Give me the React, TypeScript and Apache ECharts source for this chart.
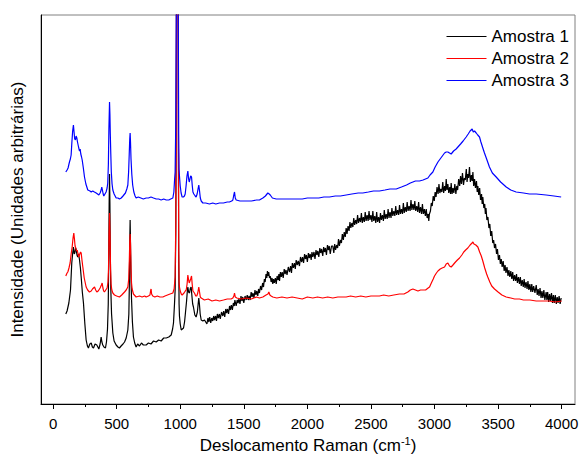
import React, { useEffect, useRef } from "react";
import * as echarts from "echarts";

// Wavenumber (cm-1), intensity (arbitrary units) pairs
const amostra1: [number, number][] = [
  [100, 90], [110, 93], [124, 101], [137, 114], [147, 141], [155, 152], [160, 157], [166, 150], [171, 151], [177, 156],
  [182, 154], [188, 149], [194, 147], [201, 150], [208, 144], [215, 136], [221, 127], [230, 112], [239, 101], [250, 80],
  [260, 64], [270, 58], [278, 56], [289, 60], [300, 61], [309, 57], [318, 56], [330, 60], [344, 59], [352, 57],
  [360, 55], [370, 60], [378, 67], [384, 62], [391, 59], [400, 57], [412, 56], [420, 62], [428, 75], [434, 100],
  [438, 150], [441, 200], [444, 230], [447, 200], [450, 150], [454, 115], [460, 90], [470, 71], [480, 63], [496, 59],
  [510, 57], [522, 56], [535, 58], [550, 60], [562, 62], [575, 66], [588, 74], [596, 90], [600, 120], [603, 160],
  [606, 184], [609, 160], [613, 125], [617, 105], [624, 82], [632, 67], [642, 61], [653, 57], [665, 60], [680, 58],
  [695, 61], [710, 59], [732, 59], [750, 61], [770, 60], [790, 63], [811, 62], [830, 64], [850, 63], [870, 66],
  [890, 66], [910, 67], [929, 69], [940, 75], [947, 81], [955, 100], [960, 114], [965, 170], [969, 300], [973, 550], [977, 600],
  [981, 550], [985, 300], [988, 150], [991, 100], [994, 88], [1000, 80], [1008, 74], [1017, 75], [1026, 76], [1034, 82], [1041, 91],
  [1050, 103], [1056, 113], [1060, 117], [1066, 112], [1073, 111], [1080, 116], [1086, 117], [1092, 108], [1098, 100], [1104, 97],
  [1115, 89], [1125, 87], [1135, 92], [1141, 100], [1146, 106], [1151, 100], [1157, 90], [1165, 84], [1178, 83], [1191, 84],
  [1210, 80], [1218, 86], [1225, 82], [1232, 87], [1240, 81], [1248, 86], [1256, 83], [1263, 88], [1270, 84], [1278, 88],
  [1285, 83], [1292, 90], [1300, 86], [1308, 90], [1315, 85], [1325, 92], [1335, 88], [1342, 93], [1350, 87], [1358, 95],
  [1365, 91], [1372, 95], [1380, 90], [1388, 98], [1395, 94], [1402, 99], [1410, 94], [1418, 101], [1425, 98], [1430, 104],
  [1440, 98], [1448, 104], [1455, 101], [1462, 105], [1470, 100], [1478, 108], [1485, 103], [1492, 107], [1500, 101], [1510, 108],
  [1519, 104], [1527, 109], [1535, 104], [1542, 108], [1550, 104], [1558, 112], [1565, 107], [1572, 111], [1580, 106], [1588, 114],
  [1595, 109], [1602, 113], [1610, 108], [1616, 115], [1623, 111], [1632, 118], [1640, 114], [1648, 121], [1655, 117], [1662, 125],
  [1668, 122], [1675, 130], [1681, 126], [1686, 133], [1690, 128], [1696, 132], [1702, 126], [1708, 128], [1715, 122], [1722, 126],
  [1728, 120], [1734, 125], [1740, 121], [1748, 126], [1755, 120], [1762, 128], [1770, 124], [1776, 130], [1781, 123], [1788, 132],
  [1795, 127], [1802, 132], [1810, 126], [1818, 135], [1825, 130], [1832, 134], [1840, 129], [1850, 137], [1860, 132], [1868, 138],
  [1875, 131], [1882, 141], [1890, 136], [1898, 141], [1905, 135], [1912, 144], [1920, 139], [1928, 143], [1938, 138], [1946, 147],
  [1955, 142], [1962, 147], [1970, 141], [1978, 150], [1985, 145], [1992, 149], [2000, 142], [2008, 151], [2015, 146], [2022, 150],
  [2030, 144], [2036, 152], [2043, 147], [2052, 152], [2060, 145], [2068, 154], [2075, 149], [2082, 153], [2090, 147], [2098, 156],
  [2105, 151], [2112, 155], [2121, 148], [2128, 157], [2135, 152], [2142, 156], [2150, 149], [2158, 159], [2165, 154], [2172, 158],
  [2180, 150], [2190, 158], [2200, 158], [2208, 151], [2215, 160], [2222, 154], [2230, 159], [2238, 156], [2245, 165], [2252, 158],
  [2260, 164], [2268, 161], [2275, 170], [2283, 164], [2290, 172], [2298, 167], [2305, 176], [2312, 170], [2320, 178], [2328, 173],
  [2335, 182], [2342, 176], [2350, 181], [2358, 177], [2365, 186], [2372, 179], [2380, 184], [2388, 180], [2395, 189], [2402, 181],
  [2410, 186], [2418, 182], [2425, 191], [2432, 181], [2440, 187], [2448, 182], [2455, 192], [2462, 183], [2470, 189], [2478, 183],
  [2485, 193], [2492, 184], [2500, 189], [2508, 182], [2515, 193], [2522, 183], [2530, 188], [2538, 181], [2545, 192], [2552, 182],
  [2560, 187], [2568, 181], [2575, 191], [2582, 184], [2590, 189], [2598, 183], [2605, 194], [2612, 185], [2620, 190], [2628, 185],
  [2635, 195], [2642, 186], [2650, 192], [2658, 186], [2665, 196], [2672, 188], [2680, 193], [2688, 188], [2695, 198], [2702, 189],
  [2710, 194], [2718, 189], [2725, 199], [2732, 190], [2740, 195], [2748, 190], [2755, 201], [2762, 191], [2770, 197], [2778, 192],
  [2785, 202], [2792, 193], [2800, 198], [2808, 193], [2815, 204], [2822, 194], [2830, 200], [2838, 194], [2845, 203], [2852, 193],
  [2860, 198], [2868, 192], [2875, 202], [2882, 191], [2890, 197], [2898, 190], [2905, 200], [2912, 190], [2920, 195], [2928, 188],
  [2935, 195], [2942, 186], [2950, 190], [2955, 183], [2960, 190], [2968, 193], [2975, 201], [2982, 198], [2990, 208], [2998, 203],
  [3005, 212], [3012, 207], [3020, 217], [3028, 210], [3035, 220], [3042, 211], [3050, 215], [3058, 212], [3065, 222], [3072, 211],
  [3080, 218], [3086, 213], [3092, 225], [3098, 214], [3105, 220], [3112, 211], [3120, 217], [3126, 210], [3131, 221], [3138, 210],
  [3145, 216], [3152, 211], [3160, 220], [3168, 210], [3175, 218], [3182, 214], [3190, 225], [3198, 218], [3205, 228], [3212, 220],
  [3220, 231], [3228, 219], [3235, 226], [3242, 224], [3250, 235], [3256, 222], [3262, 230], [3268, 226], [3275, 237], [3282, 222],
  [3290, 229], [3296, 223], [3302, 232], [3308, 218], [3315, 225], [3322, 216], [3330, 223], [3336, 212], [3341, 218], [3348, 209],
  [3355, 216], [3362, 204], [3370, 210], [3375, 200], [3380, 207], [3388, 196], [3395, 200], [3400, 190], [3405, 196], [3412, 184],
  [3420, 187], [3428, 176], [3435, 180], [3442, 168], [3450, 173], [3458, 161], [3465, 164], [3472, 156], [3480, 160], [3488, 150],
  [3495, 155], [3503, 144], [3511, 149], [3518, 140], [3525, 145], [3532, 137], [3540, 143], [3548, 133], [3555, 139], [3562, 131],
  [3570, 137], [3578, 128], [3585, 134], [3592, 127], [3600, 133], [3608, 125], [3615, 132], [3622, 123], [3630, 129], [3638, 123],
  [3645, 130], [3652, 121], [3660, 127], [3668, 120], [3675, 127], [3682, 118], [3690, 124], [3698, 117], [3705, 125], [3712, 116],
  [3720, 122], [3728, 115], [3735, 123], [3742, 114], [3750, 120], [3758, 112], [3765, 120], [3772, 112], [3780, 118], [3790, 111],
  [3800, 119], [3808, 109], [3815, 115], [3822, 108], [3830, 116], [3838, 106], [3845, 113], [3852, 106], [3860, 114], [3868, 104],
  [3878, 112], [3884, 104], [3890, 112], [3898, 102], [3905, 110], [3912, 103], [3920, 111], [3928, 101], [3935, 109], [3942, 101],
  [3950, 109], [3958, 100], [3965, 107], [3972, 101], [3980, 108], [3988, 100], [3996, 106],
];

const amostra2: [number, number][] = [
  [100, 128], [110, 131], [116, 132], [125, 136], [134, 141], [142, 150], [150, 157], [157, 166], [163, 171], [168, 165],
  [173, 158], [178, 156], [184, 153], [190, 154], [196, 150], [202, 147], [210, 150], [216, 152], [221, 151], [228, 143],
  [234, 137], [245, 126], [260, 117], [272, 114], [286, 112], [300, 113], [310, 115], [326, 117], [335, 114], [344, 112],
  [355, 113], [370, 116], [380, 119], [386, 121], [392, 116], [398, 113], [404, 112], [414, 114], [425, 116], [432, 122],
  [436, 135], [440, 170], [444, 191], [448, 170], [452, 135], [456, 120], [462, 114], [470, 111], [483, 109], [500, 108],
  [522, 107], [540, 109], [562, 112], [575, 114], [588, 117], [595, 125], [600, 145], [603, 162], [606, 170], [609, 160],
  [613, 135], [617, 121], [622, 115], [632, 110], [653, 107], [680, 108], [700, 107], [720, 108], [732, 107], [750, 108],
  [762, 109], [768, 114], [771, 115], [775, 110], [784, 108], [800, 107], [820, 108], [840, 107], [863, 107], [880, 108],
  [900, 109], [920, 110], [942, 111], [952, 115], [960, 127], [965, 180], [969, 300], [973, 550], [977, 600], [981, 550],
  [985, 300], [988, 160], [991, 122], [994, 117], [1000, 113], [1008, 110], [1015, 109], [1030, 111], [1040, 113], [1047, 114], [1054, 120], [1060, 129],
  [1066, 124], [1071, 121], [1076, 121], [1082, 125], [1089, 128], [1094, 120], [1100, 113], [1112, 111], [1122, 108], [1130, 108],
  [1138, 111], [1146, 117], [1152, 112], [1158, 107], [1165, 106], [1190, 104], [1220, 105], [1250, 103], [1280, 104], [1309, 103],
  [1340, 104], [1370, 105], [1400, 105], [1414, 106], [1422, 108], [1427, 111], [1433, 107], [1445, 106], [1480, 105], [1520, 106],
  [1560, 105], [1600, 107], [1623, 106], [1650, 107], [1675, 109], [1690, 110], [1697, 112], [1705, 109], [1715, 108], [1728, 107],
  [1760, 106], [1800, 107], [1840, 106], [1880, 107], [1920, 106], [1960, 105], [2000, 107], [2043, 106], [2080, 107], [2120, 106],
  [2160, 107], [2200, 106], [2240, 107], [2280, 107], [2305, 107], [2340, 108], [2380, 107], [2420, 108], [2460, 107], [2500, 108],
  [2540, 108], [2567, 108], [2600, 109], [2640, 108], [2680, 109], [2724, 110], [2760, 110], [2790, 112], [2810, 114], [2830, 115],
  [2850, 114], [2870, 113], [2890, 114], [2908, 114], [2930, 114], [2950, 116], [2961, 117], [2975, 121], [2990, 125], [3000, 128],
  [3015, 131], [3027, 133], [3045, 135], [3060, 136], [3079, 137], [3092, 140], [3105, 141], [3118, 138], [3131, 137], [3145, 139],
  [3165, 142], [3180, 144], [3197, 146], [3215, 149], [3230, 152], [3245, 154], [3262, 156], [3280, 159], [3295, 161], [3302, 162],
  [3310, 160], [3325, 159], [3341, 157], [3355, 152], [3368, 148], [3380, 143], [3395, 136], [3410, 130], [3419, 127], [3435, 122],
  [3450, 118], [3472, 115], [3500, 112], [3530, 109], [3564, 107], [3600, 106], [3630, 105], [3668, 105], [3700, 104], [3750, 104],
  [3800, 103], [3850, 103], [3900, 103], [3950, 102], [4000, 103],
];

const amostra3: [number, number][] = [
  [100, 232], [110, 234], [118, 236], [125, 240], [131, 243], [136, 245], [142, 249], [148, 262], [154, 273], [160, 279],
  [165, 272], [170, 265], [176, 264], [181, 268], [187, 266], [192, 262], [197, 259], [202, 256], [208, 253], [213, 255],
  [218, 250], [224, 247], [229, 244], [238, 236], [247, 227], [258, 220], [273, 214], [290, 213], [300, 212], [312, 213],
  [325, 212], [339, 211], [350, 210], [360, 209], [370, 211], [378, 214], [383, 217], [388, 214], [394, 210], [399, 208],
  [408, 210], [417, 212], [425, 216], [430, 221], [435, 240], [439, 275], [444, 302], [447, 290], [450, 270], [454, 250],
  [458, 232], [464, 220], [470, 214], [480, 210], [496, 206], [510, 206], [522, 205], [536, 206], [550, 208], [569, 211],
  [580, 215], [588, 219], [594, 232], [599, 250], [603, 265], [606, 271], [609, 262], [613, 245], [619, 230], [626, 219],
  [635, 212], [645, 208], [653, 206], [670, 207], [690, 206], [710, 205], [732, 206], [750, 206], [770, 207], [790, 206],
  [811, 205], [830, 205], [850, 204], [870, 205], [890, 204], [910, 204], [925, 205], [942, 206], [950, 212], [956, 225],
  [960, 232], [965, 280], [969, 380], [973, 550], [977, 600], [981, 550], [985, 380], [988, 270], [991, 235], [994, 228],
  [1000, 218], [1007, 211],
  [1015, 207], [1025, 207], [1033, 208], [1039, 210], [1046, 218], [1053, 228], [1060, 233], [1066, 225], [1071, 222], [1076, 222],
  [1082, 228], [1089, 227], [1095, 218], [1100, 212], [1107, 210], [1118, 208], [1125, 207], [1133, 210], [1140, 215], [1146, 219],
  [1152, 213], [1158, 206], [1165, 203], [1178, 201], [1200, 201], [1230, 200], [1256, 201], [1280, 200], [1309, 201], [1340, 201],
  [1370, 202], [1387, 202], [1405, 203], [1414, 204], [1420, 208], [1427, 212], [1433, 206], [1440, 204], [1470, 203], [1500, 203],
  [1519, 203], [1560, 203], [1600, 204], [1623, 204], [1650, 206], [1670, 208], [1689, 211], [1700, 210], [1708, 209], [1725, 206],
  [1755, 205], [1800, 205], [1850, 205], [1912, 205], [1960, 205], [2000, 206], [2043, 206], [2090, 206], [2130, 207], [2174, 207],
  [2220, 208], [2260, 208], [2305, 209], [2350, 210], [2400, 211], [2436, 211], [2480, 212], [2520, 213], [2567, 213], [2610, 214],
  [2650, 215], [2699, 215], [2740, 217], [2780, 219], [2810, 221], [2830, 222], [2850, 223], [2882, 223], [2910, 224], [2948, 226],
  [2965, 229], [2987, 232], [3005, 237], [3027, 242], [3050, 246], [3079, 251], [3092, 252], [3105, 252], [3118, 251], [3131, 250],
  [3150, 253], [3170, 255], [3184, 257], [3205, 260], [3225, 263], [3249, 267], [3265, 270], [3280, 273], [3296, 275], [3305, 272],
  [3315, 273], [3328, 271], [3340, 269], [3354, 267], [3365, 262], [3380, 256], [3393, 251], [3410, 245], [3432, 237], [3455, 231],
  [3485, 227], [3520, 222], [3564, 217], [3600, 214], [3642, 212], [3700, 211], [3747, 210], [3800, 210], [3878, 209], [3940, 208],
  [3996, 207],
];

const seriesNames = ["Amostra 1", "Amostra 2", "Amostra 3"];
const seriesColors = ["#000000", "#ff0000", "#0000ff"];
const majorTicks = [0, 500, 1000, 1500, 2000, 2500, 3000, 3500, 4000];
const minorTicks = [250, 750, 1250, 1750, 2250, 2750, 3250, 3750];

const FONT = "'Liberation Sans', Arial, sans-serif";

export default function App() {
  const ref = useRef<HTMLDivElement>(null);
  useEffect(() => {
    if (!ref.current) return;
    const chart = echarts.init(ref.current, null, { renderer: "svg" });
    const xMin = -95;
    const xMax = 4105;
    chart.setOption({
      animation: false,
      backgroundColor: "#ffffff",
      textStyle: { fontFamily: FONT },
      grid: {
        left: 41,
        right: 5,
        top: 15,
        bottom: 52,
        containLabel: false,
        outerBoundsMode: "none",
        show: true,
        borderColor: "#808080",
        borderWidth: 1,
        backgroundColor: "transparent",
      },
      legend: {
        data: seriesNames,
        orient: "vertical",
        left: 441,
        top: 23,
        itemWidth: 40,
        itemHeight: 17,
        itemGap: 5,
        itemStyle: { opacity: 0 },
        lineStyle: { width: 1 },
        textStyle: { fontSize: 17, color: "#000", fontFamily: FONT },
      },
      xAxis: [
        {
          type: "value",
          min: xMin,
          max: xMax,
          position: "bottom",
          axisLine: { show: true, onZero: false, lineStyle: { color: "#000", width: 1 } },
          axisTick: { show: true, customValues: majorTicks, length: 5, lineStyle: { color: "#000" } },
          axisLabel: {
            show: true,
            customValues: majorTicks,
            formatter: (v: number) => String(v),
            fontSize: 15,
            color: "#000",
            margin: 12,
            fontFamily: FONT,
          },
          splitLine: { show: false },
          name: "Deslocamento Raman (cm{sup|-1})",
          nameLocation: "middle",
          nameGap: 25,
          nameTextStyle: {
            fontSize: 17,
            color: "#000",
            fontFamily: FONT,
            rich: {
              sup: { fontSize: 11, color: "#000", fontFamily: FONT, verticalAlign: "bottom", padding: [0, 0, 9, 0] },
            },
          },
        },
        {
          type: "value",
          min: xMin,
          max: xMax,
          position: "bottom",
          axisLine: { show: false, onZero: false },
          axisTick: { show: true, customValues: minorTicks, length: 3, lineStyle: { color: "#000" } },
          axisLabel: { show: false },
          splitLine: { show: false },
        },
      ],
      yAxis: {
        type: "value",
        min: 0,
        max: 389,
        axisLine: { show: true, onZero: false, lineStyle: { color: "#000", width: 1 } },
        axisTick: { show: false },
        axisLabel: { show: false },
        splitLine: { show: false },
        name: "Intensidade (Unidades arbitrárias)",
        nameLocation: "middle",
        nameGap: 15,
        nameTextStyle: { fontSize: 17, color: "#000", fontFamily: FONT },
      },
      series: [amostra1, amostra2, amostra3].map((d, i) => ({
        type: "line",
        name: seriesNames[i],
        data: d,
        xAxisIndex: 0,
        yAxisIndex: 0,
        symbol: "none",
        clip: true,
        color: seriesColors[i],
        itemStyle: { color: seriesColors[i] },
        lineStyle: { color: seriesColors[i], width: 1.2 },
      })),
    });
    return () => chart.dispose();
  }, []);
  return <div ref={ref} style={{ position: "fixed", left: 0, top: 0, width: 580, height: 456 }} />;
}
